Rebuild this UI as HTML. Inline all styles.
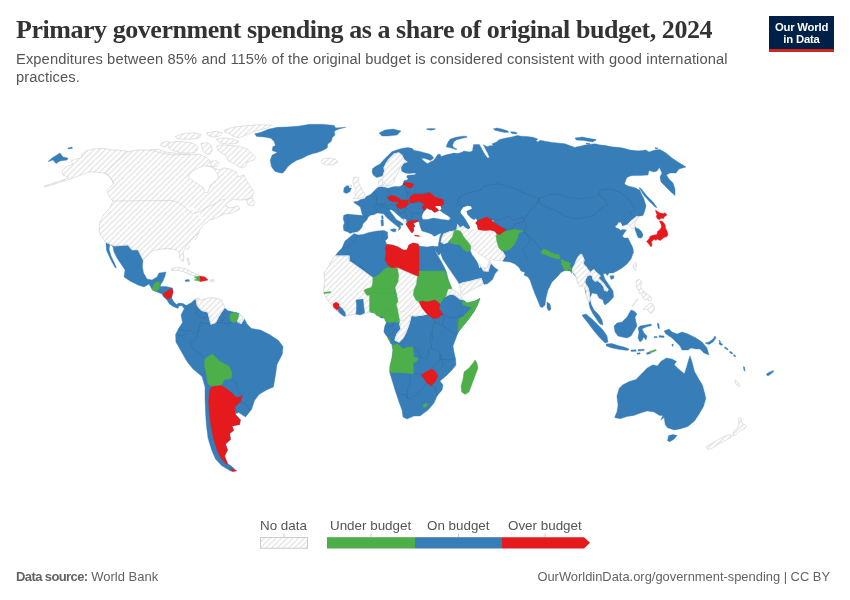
<!DOCTYPE html>
<html><head><meta charset="utf-8">
<style>
html,body{margin:0;padding:0;background:#fff;}
body{width:850px;height:600px;position:relative;overflow:hidden;font-family:"Liberation Sans",sans-serif;}
#title{position:absolute;left:16px;top:14px;font-family:"Liberation Serif",serif;font-weight:bold;font-size:26px;color:#333;white-space:nowrap;letter-spacing:-0.454px;line-height:32px;}
#sub{position:absolute;left:16px;top:50px;font-size:14.7px;letter-spacing:0.1px;color:#555;line-height:18px;white-space:nowrap;}
#logo{position:absolute;left:769px;top:16px;width:65px;height:33px;background:#002147;border-bottom:3px solid #ce261e;color:#fff;font-weight:bold;font-size:11.3px;line-height:12px;text-align:center;box-sizing:content-box;letter-spacing:-0.2px;}
#logo div{position:absolute;left:0;width:65px;}
#src{position:absolute;left:16px;top:569px;font-size:13px;color:#636363;white-space:nowrap;}
#url{position:absolute;right:20px;top:569px;font-size:12.9px;color:#636363;white-space:nowrap;}
.lg{position:absolute;top:518px;font-size:13.4px;color:#555;white-space:nowrap;}
svg{position:absolute;left:0;top:0;}
</style></head><body>
<div id="title">Primary government spending as a share of original budget, 2024</div>
<div id="sub">Expenditures between 85% and 115% of the original budget is considered consistent with good international<br>practices.</div>
<div id="logo"><div style="top:4.500px">Our World</div><div style="top:16.500px">in Data</div></div>
<svg id="map" width="850" height="600" viewBox="0 0 850 600">
<defs>
<pattern id="h" patternUnits="userSpaceOnUse" width="17" height="17"><rect width="17" height="17" fill="#fff"/><path d="M-1.000,1.000L1.000,-1.000M-1.000,6.667L6.667,-1.000M-1.000,12.333L12.333,-1.000M-1.000,18.000L18.000,-1.000M-1.000,23.667L23.667,-1.000M-1.000,29.333L29.333,-1.000M-1.000,35.000L35.000,-1.000" stroke="#e7e7e7" stroke-width="1.4" fill="none"/></pattern>
<pattern id="h2" patternUnits="userSpaceOnUse" width="17" height="17" x="260" y="537"><rect width="17" height="17" fill="#fff"/><path d="M-1.000,1.000L1.000,-1.000M-1.000,6.667L6.667,-1.000M-1.000,12.333L12.333,-1.000M-1.000,18.000L18.000,-1.000M-1.000,23.667L23.667,-1.000M-1.000,29.333L29.333,-1.000M-1.000,35.000L35.000,-1.000" stroke="#e7e7e7" stroke-width="1.4" fill="none"/></pattern>
</defs>
<!--MAP-->
<g fill="#377eb8" stroke="#377eb8" stroke-width="0.4">
<path d="M335.0,256.0L339.0,251.0L342.0,248.0L345.0,241.0L350.0,237.0L354.0,233.6L358.0,235.0L363.0,234.4L369.0,232.4L377.0,231.0L384.0,230.4L387.4,232.0L388.0,238.0L385.0,241.0L387.0,244.4L392.0,245.0L398.0,247.0L403.0,250.0L407.0,250.0L409.0,245.0L413.0,243.0L418.0,244.0L419.0,246.0L427.0,247.0L433.0,246.0L437.0,247.6L435.0,250.6L437.4,255.0L441.2,261.2L443.8,266.2L446.2,271.2L447.4,276.2L448.8,281.2L451.8,288.8L456.8,292.4L460.6,295.6L463.0,299.6L467.0,303.0L475.0,301.0L480.0,298.4L477.0,306.0L473.0,313.0L468.0,320.0L463.0,326.0L459.0,331.0L455.0,338.0L453.0,344.0L391.0,344.0L388.0,338.0L384.0,332.0L385.0,326.0L388.0,322.0L387.0,318.0L381.0,318.0L375.0,313.0L369.0,312.0L364.0,314.0L355.0,314.0L345.0,316.0L338.0,312.0L333.0,306.0L330.0,303.0L327.0,299.0L324.0,293.0L324.0,288.0L325.0,280.0L324.0,273.0L329.0,266.0L332.0,260.0Z"/>
<path d="M439.8,236.9L438.8,242.5L438.1,246.5L435.2,246.5L435.2,250.6L438.8,255.4L440.6,253.1L442.5,258.8L446.2,264.4L450.0,270.0L453.8,275.6L456.9,280.0L459.4,284.4L460.6,288.8L461.2,293.8L463.1,295.0L471.2,290.0L478.8,286.2L483.1,284.4L487.5,283.8L492.5,279.4L495.0,273.8L498.1,270.0L493.8,266.9L490.6,263.1L489.8,260.0L488.8,261.9L488.1,267.5L486.9,268.1L481.9,267.5L480.0,266.9L478.1,263.8L475.6,259.4L471.9,254.4L470.0,250.0L467.5,242.5L455.0,230.0L442.5,230.0Z"/>
<path d="M432.5,235.2L436.9,233.8L437.2,234.8L434.4,236.2Z"/>
<path d="M614.6,417.6L616.9,412.0L618.0,405.2L616.9,396.2L619.1,388.4L622.5,385.0L629.2,381.6L636.0,379.4L641.6,373.8L647.2,368.1L652.9,364.8L657.4,365.9L660.8,361.4L666.4,358.0L672.0,359.1L676.5,361.4L674.2,364.8L678.8,369.2L684.4,373.8L686.6,367.0L688.9,359.1L690.0,355.8L692.2,362.5L694.5,371.5L699.0,379.4L702.4,385.0L704.6,392.9L705.8,398.5L703.5,406.4L699.0,414.2L694.5,421.0L687.8,426.6L679.9,428.9L674.2,430.0L667.5,427.8L665.2,424.4L664.1,417.6L660.8,419.9L663.0,415.4L659.6,415.4L654.0,412.0L647.2,410.9L640.5,413.1L633.8,415.4L627.0,416.5L620.2,418.8Z"/>
<path d="M668.6,435.6L673.1,434.5L677.0,435.6L674.2,439.0L669.8,441.7L667.5,440.8Z"/>
<path d="M719.2,342.7L722.6,344.1L722.2,345.4L719.0,343.8Z"/>
<path d="M724.9,346.8L728.2,349.0L727.6,350.1L724.4,347.9Z"/>
<path d="M730.0,351.2L732.8,353.1L732.1,354.2L729.6,352.4Z"/>
<path d="M733.9,354.6L735.7,355.8L735.2,356.9L733.4,355.8Z"/>
<path d="M743.3,366.6L744.5,367.0L745.1,371.1L744.0,370.6Z"/>
<path d="M766.5,373.8L769.9,371.9L773.7,370.4L773.2,371.9L768.8,375.6L767.0,375.6Z"/>
<path d="M106.0,242.4L114.0,246.0L128.0,245.0L132.0,250.0L138.0,250.0L143.0,260.0L142.4,267.0L143.6,273.0L147.0,279.0L152.0,280.0L157.0,277.0L159.0,273.0L166.0,272.0L165.0,276.0L163.0,281.0L161.0,284.0L160.0,286.6L166.0,286.4L172.4,288.0L173.0,292.0L171.6,298.0L173.6,301.6L176.4,304.4L179.0,303.0L183.0,303.6L186.4,305.6L186.0,307.0L184.0,308.4L182.0,305.6L179.0,306.0L178.0,308.4L173.0,306.4L169.0,303.6L167.0,300.0L163.6,297.0L162.0,294.0L157.0,292.0L152.4,290.0L149.0,284.0L144.0,287.0L138.0,285.0L130.0,281.0L124.0,277.0L125.0,270.0L121.0,264.0L117.0,258.0L114.0,252.0L113.0,247.0L110.0,244.0Z"/>
<path d="M106.0,243.0L110.0,244.0L109.0,249.0L111.0,256.0L114.0,262.0L116.4,268.0L115.0,267.6L112.0,262.0L109.0,256.0L106.4,250.0Z"/>
<path d="M185.0,280.0L189.0,279.6L189.6,281.2L185.6,281.6Z"/>
<path d="M426.4,207.6L429.4,209.3L431.7,210.0L434.6,212.3L438.9,210.5L437.6,208.6L435.2,207.0L435.9,206.1L440.6,206.1L441.5,208.6L439.9,210.5L444.1,213.5L448.3,216.1L450.6,218.2L448.8,220.3L441.8,219.4L433.6,218.1L427.6,219.4L422.9,219.4L421.7,217.0L419.2,220.1L419.2,222.2L420.1,226.6L421.9,231.0L428.0,232.8L435.0,235.4L442.0,232.8L446.4,231.9L452.5,231.0L470.0,224.0L470.0,192.5L435.0,192.5Z"/>
<path d="M344.0,188.1L346.6,185.8L349.6,185.8L351.4,188.1L350.1,191.6L346.6,193.4L343.6,192.2Z"/>
<path d="M381.5,185.9L378.5,187.1L375.6,189.4L372.6,192.4L370.3,194.7L366.2,196.5L364.4,198.8L360.3,199.4L357.9,201.2L353.8,201.8L354.4,202.9L357.9,205.3L360.3,207.1L361.5,211.8L362.6,215.9L360.3,215.3L353.8,214.7L347.4,214.1L343.8,215.3L343.2,218.8L344.4,222.4L343.2,226.5L343.8,230.6L347.4,231.8L350.3,233.5L352.6,232.4L357.4,231.8L360.3,229.4L362.1,227.1L363.2,223.5L366.8,220.0L367.9,217.6L370.3,215.3L373.8,214.7L377.4,212.9L381.5,213.5L383.8,214.1L386.8,217.6L390.9,221.2L394.4,224.1L397.4,226.5L399.1,227.6L398.5,230.6L400.3,228.8L400.9,226.5L399.7,225.3L402.6,225.3L403.2,224.1L400.3,221.8L396.2,219.4L393.8,215.9L391.5,212.9L389.7,210.6L390.9,209.4L393.8,211.2L397.4,214.7L400.9,217.6L403.8,220.0L405.0,222.9L406.2,224.1L406.8,225.3L407.9,227.1L409.7,230.0L412.1,232.9L413.8,230.6L413.2,227.1L415.0,226.5L413.2,223.5L415.0,222.4L418.5,221.2L419.1,222.4L422.1,221.8L421.5,218.8L422.1,215.3L423.2,212.4L425.6,209.4L427.9,207.1L436.2,197.6L436.2,174.4L415.9,174.4L411.8,175.1L407.6,175.3L406.5,177.1L408.2,178.8L407.1,180.0L404.1,180.6L403.5,182.9L402.9,184.7L399.9,186.5L395.2,186.5L391.8,187.1L388.2,188.2L384.4,187.3L382.4,186.5Z"/>
<path d="M381.5,215.9L383.0,215.6L383.2,219.1L381.8,219.4Z"/>
<path d="M380.9,220.2L383.2,219.8L383.5,225.6L381.4,226.1Z"/>
<path d="M390.3,229.4L393.8,228.8L396.2,229.2L395.6,231.8L393.2,231.8L390.9,230.6Z"/>
<path d="M580.0,147.0L588.0,146.4L598.0,145.0L606.0,145.6L614.0,148.0L624.0,148.4L630.0,151.0L638.0,151.0L646.0,150.0L649.0,152.0L655.0,150.0L660.0,149.6L666.0,153.0L672.0,158.0L678.0,162.0L686.0,167.0L679.0,169.0L676.0,173.0L670.0,173.0L666.4,175.0L669.0,179.0L673.0,183.0L675.0,189.0L675.0,195.6L671.0,192.0L665.0,186.0L661.0,182.0L660.0,177.0L662.0,173.0L659.4,167.6L657.0,171.0L654.0,172.0L649.0,170.6L648.0,175.0L640.0,175.6L632.0,175.6L627.0,177.0L624.4,184.0L628.0,186.0L636.0,188.0L640.0,191.0L644.0,199.0L646.0,206.0L644.4,212.0L643.0,215.4L637.4,216.4L638.0,217.4L636.4,220.0L635.0,223.0L634.4,226.0L636.4,228.0L639.0,229.0L641.4,231.4L643.0,234.4L642.4,237.0L640.4,238.2L638.0,237.4L636.8,234.4L635.8,231.4L634.4,229.0L633.4,228.4L632.0,229.0L630.4,227.0L629.4,225.0L628.4,224.0L625.0,225.0L622.4,226.0L621.8,224.0L620.4,222.0L618.4,222.4L617.4,224.4L615.0,226.4L616.4,228.0L619.4,229.0L620.4,230.4L622.4,229.4L626.4,230.0L625.0,232.0L622.4,236.0L624.0,238.0L626.4,240.0L629.0,243.0L631.4,246.0L633.4,250.0L576.0,250.0L576.0,147.0Z"/>
<path d="M639.0,187.6L641.0,188.4L647.0,196.0L653.0,202.0L657.0,207.6L655.0,207.0L649.0,201.0L643.6,195.0Z"/>
<path d="M580.0,138.0L588.0,138.4L596.0,139.6L592.0,140.4L584.0,139.4Z"/>
<path d="M586.0,143.0L590.0,143.6L589.6,144.6L586.4,144.0Z"/>
<path d="M655.0,147.6L658.0,148.0L657.6,148.8L655.2,148.4Z"/>
<path d="M254.7,133.8L260.5,132.5L268.3,129.2L277.4,127.3L287.7,126.9L299.4,126.0L309.7,124.3L322.6,124.3L334.3,125.4L335.6,127.9L345.9,127.3L338.2,129.2L334.3,131.2L334.9,135.1L332.4,137.6L331.1,141.5L327.8,144.1L327.2,148.0L322.6,150.6L317.5,152.5L312.3,153.8L307.1,155.8L301.9,158.4L296.8,160.3L291.6,163.5L287.7,166.8L285.1,170.6L282.5,173.2L278.6,172.6L274.8,171.3L271.5,166.8L270.2,160.3L272.2,155.1L277.4,152.5L272.2,150.6L272.8,146.7L275.4,145.4L274.1,141.5L270.9,138.3L264.4,137.0L256.6,136.4Z"/>
<path d="M501.8,261.0L510.0,262.0L515.0,264.0L519.0,267.4L521.0,271.0L525.0,272.4L524.0,275.0L528.0,277.0L530.0,280.0L532.0,286.0L535.0,294.0L538.0,301.0L540.4,307.0L542.4,307.4L545.0,305.0L546.0,298.0L548.0,290.0L552.0,282.0L558.0,276.0L561.0,272.4L566.0,270.0L569.0,271.0L572.0,270.0L573.0,273.0L590.0,268.0L590.0,200.0L490.0,200.0L496.0,234.0L499.0,248.0L502.0,251.0L505.0,256.0Z"/>
<path d="M460.0,210.0L482.0,210.0L482.0,232.0L460.0,232.0Z"/>
<path d="M547.0,302.0L550.0,304.0L551.0,309.0L549.0,311.0L547.0,308.0Z"/>
<path d="M48.0,161.6L52.0,158.0L60.0,153.0L63.0,157.0L68.0,158.0L67.0,160.0L60.0,161.0L56.0,163.6L53.0,160.0Z"/>
<path d="M68.0,148.0L72.0,147.0L72.4,148.4L68.4,149.0Z"/>
<path d="M535.0,145.0L540.0,140.2L545.0,141.2L552.5,142.5L565.0,143.8L575.0,147.5L585.0,145.0L595.0,143.8L605.0,146.2L620.0,147.5L630.0,150.0L640.0,151.2L640.0,173.8L630.0,175.5L625.0,178.8L623.8,183.8L627.5,187.5L640.0,190.0L640.0,210.0L615.0,220.0L455.0,220.0L455.0,205.0L440.0,202.5L430.0,185.0L430.0,180.0L540.0,180.0Z"/>
<path d="M575.0,138.0L582.5,137.0L590.0,138.8L596.2,140.0L592.5,142.0L583.8,140.5L576.2,140.0Z"/>
<path d="M444.7,155.9L448.2,155.2L453.9,153.1L457.4,153.8L462.4,152.0L463.8,151.0L469.4,152.0L472.5,151.0L472.9,148.2L473.6,144.6L479.3,144.4L481.0,147.5L482.8,151.0L484.9,154.5L487.5,158.1L489.5,157.4L488.0,153.8L486.1,150.3L484.4,146.8L483.2,144.6L487.1,146.8L490.6,145.4L493.4,146.1L492.0,143.9L496.9,141.8L499.1,139.7L504.7,138.3L511.8,136.9L517.4,135.5L521.6,136.2L527.3,136.5L532.9,137.3L537.9,139.0L535.8,141.1L540.0,142.5L541.4,188.4L444.7,188.4Z"/>
<path d="M446.1,146.8L448.2,141.8L450.4,139.0L456.0,137.3L462.4,136.2L466.6,136.2L467.0,137.2L462.4,138.3L456.7,139.7L453.9,141.8L452.5,145.4L453.9,147.8L457.0,148.9L456.0,149.6L450.4,147.8Z"/>
<path d="M426.4,128.8L431.3,128.6L435.5,128.7L434.8,129.5L430.6,130.2L427.1,129.5Z"/>
<path d="M493.4,128.8L496.9,128.0L501.9,129.1L507.5,130.8L508.9,132.2L504.7,132.6L499.1,131.2L494.8,130.2Z"/>
<path d="M510.4,131.7L514.6,131.9L517.4,133.1L516.0,134.1L511.8,133.4Z"/>
<path d="M388.0,318.0L385.0,326.0L384.0,332.0L388.0,337.0L391.0,340.0L392.0,345.0L393.0,350.0L392.0,358.0L390.0,366.0L389.6,372.0L392.0,380.0L395.0,390.0L399.0,402.0L402.0,410.0L403.0,417.0L407.0,419.0L414.0,416.0L420.0,416.0L428.0,410.0L434.0,403.0L437.0,396.0L442.0,390.0L443.0,385.0L440.0,381.0L446.0,376.0L452.0,370.0L456.0,365.0L455.6,359.0L454.0,352.0L453.0,346.0L456.0,338.0L458.0,332.0L460.0,329.0L466.0,320.0L472.0,314.0L475.0,310.0L475.0,304.0L388.0,304.0Z"/>
<path d="M185.5,306.0L181.0,315.0L182.5,322.5L178.6,328.5L175.6,334.5L175.9,342.0L181.0,351.0L187.0,361.5L193.0,369.0L202.0,376.5L205.0,387.0L205.0,399.0L205.6,414.0L206.5,426.0L208.0,438.0L211.6,450.0L215.5,459.0L221.5,465.6L230.5,471.0L236.5,471.0L232.0,466.5L227.5,463.5L224.5,456.0L227.5,450.0L225.4,444.0L230.5,439.5L229.6,433.5L233.5,430.5L232.0,426.0L239.5,424.5L240.4,420.0L235.0,414.0L238.6,412.5L245.5,417.0L251.5,409.5L254.5,400.5L259.0,394.5L266.5,390.0L273.4,387.0L275.5,375.0L277.0,364.5L282.4,354.0L283.0,346.5L278.5,340.5L269.5,334.5L260.5,330.0L251.5,328.5L247.0,324.0L244.0,318.0L239.5,313.5L233.5,312.0L227.5,310.5L224.5,307.5L221.5,300.0L217.0,298.5L209.5,297.6L202.0,300.0L196.0,298.5L191.5,302.4Z"/>
<path d="M372.4,168.8L375.3,166.5L380.0,164.1L383.5,160.0L387.6,155.9L391.8,151.8L396.5,150.0L402.4,148.2L408.2,147.6L412.4,148.5L414.1,150.6L418.8,151.2L423.5,152.4L429.4,154.1L432.4,155.9L433.5,158.2L430.6,160.6L427.6,159.4L424.1,158.2L421.2,158.5L424.1,161.2L427.1,163.5L428.8,162.9L430.6,161.8L433.5,160.6L435.9,157.6L437.4,154.7L440.0,154.1L441.2,156.5L444.7,155.3L449.4,154.1L454.1,153.5L461.2,154.1L461.2,201.2L415.9,201.2L415.9,174.4L415.9,173.5L414.1,172.9L409.4,173.5L405.3,172.9L401.8,171.2L401.2,167.6L403.5,163.5L406.5,161.8L403.5,162.9L400.6,166.5L398.8,170.6L397.6,174.1L395.3,177.1L394.1,181.2L391.2,184.7L388.2,185.9L385.3,185.3L383.5,182.4L382.4,178.8L383.3,175.5L380.6,176.5L376.5,177.6L373.5,175.3L372.1,172.4Z"/>
<path d="M628.0,238.0L632.0,246.0L633.6,252.0L631.0,259.0L627.0,264.0L622.0,268.0L617.0,271.0L613.0,273.0L609.0,273.0L607.6,275.6L605.6,273.6L603.0,274.0L605.0,279.0L609.0,285.0L613.0,291.0L613.6,297.0L609.0,302.0L605.0,305.0L603.6,303.0L603.0,300.0L599.0,298.0L597.0,294.0L592.0,293.0L590.0,298.0L591.0,304.0L594.0,310.0L599.0,315.0L602.0,320.0L603.0,325.0L600.0,324.0L597.0,320.0L593.0,314.0L590.0,308.0L588.6,302.0L586.0,295.0L584.0,284.0L580.0,285.6L577.6,283.0L576.8,278.4L573.2,273.6L569.0,270.0L558.0,270.0L558.0,238.0Z"/>
<path d="M610.0,276.0L613.6,275.6L614.0,278.0L611.0,279.4Z"/>
<path d="M582.0,315.0L586.0,314.0L592.0,319.0L598.0,325.0L603.0,330.0L607.0,336.0L608.0,342.0L605.0,343.0L600.0,338.0L594.0,331.0L588.0,323.0L584.0,318.0Z"/>
<path d="M606.0,344.0L612.0,343.6L618.0,345.6L624.0,347.0L629.0,349.0L628.0,350.4L620.0,349.6L612.0,348.0L606.4,346.0Z"/>
<path d="M631.0,350.0L636.0,349.8L636.2,351.2L631.2,351.4Z"/>
<path d="M638.0,349.6L644.0,349.2L644.2,350.6L638.2,351.0Z"/>
<path d="M637.0,353.0L640.0,352.8L640.2,354.0L637.2,354.2Z"/>
<path d="M646.4,353.0L650.0,351.6L651.0,353.2L647.2,354.6Z"/>
<path d="M614.0,326.0L617.0,323.0L622.0,322.0L627.0,317.0L631.0,310.0L634.0,311.0L637.0,314.0L635.0,317.0L636.0,322.0L637.0,326.0L634.0,331.0L631.0,336.0L627.0,338.0L622.0,337.0L618.0,336.0L615.0,332.0Z"/>
<path d="M638.0,328.0L640.0,326.0L646.0,325.0L651.0,324.0L651.6,325.6L646.0,327.0L642.0,329.0L644.0,333.0L647.0,336.0L646.0,340.0L643.6,337.0L642.4,340.0L640.0,342.0L638.0,338.0L639.0,332.0Z"/>
<path d="M657.4,323.0L659.0,324.0L659.4,329.0L658.0,328.0Z"/>
<path d="M654.0,336.6L657.0,336.4L657.2,337.6L654.2,337.8Z"/>
<path d="M659.0,335.6L664.0,336.0L664.2,337.4L659.2,337.2Z"/>
<path d="M672.0,344.0L673.2,344.2L673.0,346.2L672.0,346.0Z"/>
<path d="M664.0,331.0L669.0,329.0L672.0,332.0L677.0,334.0L682.0,332.0L688.0,334.0L696.0,338.0L702.0,342.0L707.0,348.0L709.0,355.0L704.0,353.0L700.0,349.0L696.0,349.0L691.0,348.0L688.0,350.0L682.0,350.0L680.0,346.0L676.0,342.0L672.0,338.0L669.0,336.0L666.0,334.0Z"/>
<path d="M705.0,343.0L709.0,342.0L713.0,339.0L715.0,336.0L716.0,338.0L713.0,342.0L709.0,344.4Z"/>
<path d="M719.0,340.0L720.2,341.0L721.2,345.0L720.0,344.6Z"/>
<path d="M379.0,133.0L385.0,130.0L393.0,129.0L401.0,131.0L397.0,135.0L388.0,136.0L382.0,136.0Z"/>
</g>
<g fill="url(#h)">
<path d="M71.0,161.0L76.0,159.0L81.0,158.0L82.0,154.0L86.0,151.0L94.0,149.0L104.0,148.4L112.0,150.0L120.0,150.0L128.0,151.6L138.0,150.0L150.0,150.0L158.0,152.0L166.0,154.0L174.0,155.0L190.0,154.0L190.0,250.0L132.0,250.0L128.0,245.0L114.0,246.0L106.0,242.4L101.0,236.0L99.0,230.0L100.0,222.0L104.0,214.0L110.0,208.0L112.0,203.0L113.0,201.0L111.0,199.0L108.0,194.0L107.0,190.0L110.0,187.0L113.6,184.0L112.0,180.0L108.0,175.0L104.0,173.0L96.0,172.0L88.0,172.0L81.0,175.0L70.0,179.0L58.0,183.0L44.0,187.0L44.4,186.0L58.0,181.6L69.0,177.6L63.0,175.0L62.0,171.0L66.0,167.0L73.0,164.0Z"/>
<path d="M150.0,150.0L158.0,149.0L166.0,152.0L174.0,153.0L182.0,154.0L190.0,155.0L198.0,154.0L206.0,157.0L210.0,161.0L206.0,165.6L212.0,167.0L219.0,170.0L224.0,168.0L230.0,169.0L236.0,172.0L238.0,177.0L244.0,175.0L246.0,180.0L250.0,186.0L254.0,192.0L252.0,197.0L246.0,199.6L240.0,200.0L234.0,199.0L228.0,202.0L226.0,206.0L230.0,208.0L238.0,206.0L240.0,209.0L232.0,213.0L224.0,214.0L216.0,218.0L210.0,220.0L204.0,224.0L200.0,229.0L198.0,235.0L195.0,240.0L150.0,240.0Z"/>
<path d="M150.0,200.0L200.0,200.0L198.0,233.0L191.0,240.0L186.0,246.0L183.0,252.0L184.0,258.0L183.0,262.0L180.0,259.0L179.0,252.0L176.0,250.0L170.0,248.4L160.0,249.0L152.0,251.0L147.0,256.0L143.0,260.0L138.0,250.0L132.0,250.0L128.0,245.0L114.0,246.0L106.0,242.4L100.0,225.0L120.0,200.0Z"/>
</g>
<g fill="url(#h)" stroke="#cfcfcf" stroke-width="0.6">
<path d="M335.0,256.0L349.0,256.0L349.0,261.0L373.0,278.0L372.6,284.2L371.4,287.6L366.8,288.8L363.8,290.6L366.8,295.2L369.6,295.2L369.6,304.2L369.6,311.6L364.0,314.0L355.0,314.0L345.0,316.0L338.0,312.0L333.0,306.0L330.0,303.0L327.0,299.0L324.0,293.0L324.0,288.0L325.0,280.0L324.0,273.0L329.0,266.0L332.0,260.0Z" fill="#fff" stroke="#fff" stroke-width="1.2"/>
<path d="M335.0,256.0L349.0,256.0L349.0,261.0L373.0,278.0L372.6,284.2L371.4,287.6L366.8,288.8L363.8,290.6L366.8,295.2L369.6,295.2L369.6,304.2L369.6,311.6L364.0,314.0L355.0,314.0L345.0,316.0L338.0,312.0L333.0,306.0L330.0,303.0L327.0,299.0L324.0,293.0L324.0,288.0L325.0,280.0L324.0,273.0L329.0,266.0L332.0,260.0Z"/>
<path d="M398.0,268.0L415.0,275.6L417.4,276.6L416.6,284.0L414.0,290.0L413.4,295.0L416.0,300.0L411.0,306.0L405.0,311.0L401.0,312.0L397.4,308.8L396.2,304.2L398.0,301.8L397.4,298.2L396.2,292.4L395.0,287.6L398.0,281.8L398.6,274.8L398.0,272.0Z" fill="#fff" stroke="#fff" stroke-width="1.2"/>
<path d="M398.0,268.0L415.0,275.6L417.4,276.6L416.6,284.0L414.0,290.0L413.4,295.0L416.0,300.0L411.0,306.0L405.0,311.0L401.0,312.0L397.4,308.8L396.2,304.2L398.0,301.8L397.4,298.2L396.2,292.4L395.0,287.6L398.0,281.8L398.6,274.8L398.0,272.0Z"/>
<path d="M401.0,312.0L405.0,311.0L411.0,306.0L416.0,300.0L419.0,302.0L422.0,308.0L427.0,314.0L423.0,315.0L415.0,316.0L409.0,315.0L404.0,320.0L399.6,320.6L398.4,314.6L397.4,308.8Z" fill="#fff" stroke="#fff" stroke-width="1.2"/>
<path d="M401.0,312.0L405.0,311.0L411.0,306.0L416.0,300.0L419.0,302.0L422.0,308.0L427.0,314.0L423.0,315.0L415.0,316.0L409.0,315.0L404.0,320.0L399.6,320.6L398.4,314.6L397.4,308.8Z"/>
<path d="M399.6,320.6L404.0,320.0L409.0,315.0L411.0,316.0L409.0,324.0L406.0,332.0L403.0,338.0L399.0,342.0L395.0,340.0L397.0,334.0L401.0,329.0L399.6,323.0Z" fill="#fff" stroke="#fff" stroke-width="1.2"/>
<path d="M399.6,320.6L404.0,320.0L409.0,315.0L411.0,316.0L409.0,324.0L406.0,332.0L403.0,338.0L399.0,342.0L395.0,340.0L397.0,334.0L401.0,329.0L399.6,323.0Z"/>
<path d="M448.0,289.0L451.8,288.8L456.8,292.4L460.6,295.6L463.0,299.6L460.0,299.0L455.0,295.0L451.0,294.0L448.0,295.0L446.0,296.0Z" fill="#fff" stroke="#fff" stroke-width="1.2"/>
<path d="M448.0,289.0L451.8,288.8L456.8,292.4L460.6,295.6L463.0,299.6L460.0,299.0L455.0,295.0L451.0,294.0L448.0,295.0L446.0,296.0Z"/>
<path d="M459.4,284.4L462.5,283.1L471.2,281.2L478.1,279.4L481.2,278.8L483.1,284.4L478.8,286.2L471.2,290.0L463.1,295.0L461.2,293.8L460.6,288.8Z" fill="#fff" stroke="#fff" stroke-width="1.2"/>
<path d="M459.4,284.4L462.5,283.1L471.2,281.2L478.1,279.4L481.2,278.8L483.1,284.4L478.8,286.2L471.2,290.0L463.1,295.0L461.2,293.8L460.6,288.8Z"/>
<path d="M481.9,267.5L486.9,268.1L488.8,261.9L489.8,260.0L490.6,263.1L489.4,266.2L488.1,271.2L483.8,270.6Z" fill="#fff" stroke="#fff" stroke-width="1.2"/>
<path d="M481.9,267.5L486.9,268.1L488.8,261.9L489.8,260.0L490.6,263.1L489.4,266.2L488.1,271.2L483.8,270.6Z"/>
<path d="M479.1,264.4L480.2,263.8L480.6,266.2L479.6,267.1Z" fill="#fff" stroke="#fff" stroke-width="1.2"/>
<path d="M479.1,264.4L480.2,263.8L480.6,266.2L479.6,267.1Z"/>
<path d="M224.2,130.0L233.4,127.2L244.7,125.8L258.8,124.8L271.5,125.1L267.3,127.9L258.8,130.0L253.2,132.1L244.7,135.6L239.1,137.8L233.4,136.4L229.2,133.5L224.9,132.1Z" fill="#fff" stroke="#fff" stroke-width="1.2"/>
<path d="M224.2,130.0L233.4,127.2L244.7,125.8L258.8,124.8L271.5,125.1L267.3,127.9L258.8,130.0L253.2,132.1L244.7,135.6L239.1,137.8L233.4,136.4L229.2,133.5L224.9,132.1Z"/>
<path d="M216.5,139.2L223.5,137.8L233.4,139.2L239.1,141.3L236.2,143.4L227.8,144.1L219.3,142.7Z" fill="#fff" stroke="#fff" stroke-width="1.2"/>
<path d="M216.5,139.2L223.5,137.8L233.4,139.2L239.1,141.3L236.2,143.4L227.8,144.1L219.3,142.7Z"/>
<path d="M216.5,146.2L222.1,144.8L230.6,145.5L239.1,146.2L247.5,149.1L251.8,153.3L256.0,157.5L253.2,160.4L247.5,161.8L246.1,166.0L241.9,168.1L237.6,166.0L233.4,163.2L227.8,160.4L226.4,156.1L222.1,153.3L217.9,150.5Z" fill="#fff" stroke="#fff" stroke-width="1.2"/>
<path d="M216.5,146.2L222.1,144.8L230.6,145.5L239.1,146.2L247.5,149.1L251.8,153.3L256.0,157.5L253.2,160.4L247.5,161.8L246.1,166.0L241.9,168.1L237.6,166.0L233.4,163.2L227.8,160.4L226.4,156.1L222.1,153.3L217.9,150.5Z"/>
<path d="M200.9,143.4L206.6,142.7L210.8,144.8L212.2,150.5L209.4,154.7L205.2,153.3L202.4,149.1Z" fill="#fff" stroke="#fff" stroke-width="1.2"/>
<path d="M200.9,143.4L206.6,142.7L210.8,144.8L212.2,150.5L209.4,154.7L205.2,153.3L202.4,149.1Z"/>
<path d="M168.5,143.4L176.9,141.3L185.4,142.0L193.9,143.4L198.1,147.6L195.3,152.6L188.2,153.3L179.8,152.6L172.7,150.5L168.5,147.6Z" fill="#fff" stroke="#fff" stroke-width="1.2"/>
<path d="M168.5,143.4L176.9,141.3L185.4,142.0L193.9,143.4L198.1,147.6L195.3,152.6L188.2,153.3L179.8,152.6L172.7,150.5L168.5,147.6Z"/>
<path d="M161.4,143.4L165.6,141.3L169.9,142.0L168.5,145.5L164.2,146.9L160.7,145.5Z" fill="#fff" stroke="#fff" stroke-width="1.2"/>
<path d="M161.4,143.4L165.6,141.3L169.9,142.0L168.5,145.5L164.2,146.9L160.7,145.5Z"/>
<path d="M175.5,136.4L184.0,133.5L192.5,132.8L200.9,134.2L199.5,137.8L191.1,139.2L182.6,139.2L176.9,138.5Z" fill="#fff" stroke="#fff" stroke-width="1.2"/>
<path d="M175.5,136.4L184.0,133.5L192.5,132.8L200.9,134.2L199.5,137.8L191.1,139.2L182.6,139.2L176.9,138.5Z"/>
<path d="M206.6,132.8L215.1,131.4L222.1,132.8L220.7,135.6L213.6,137.1L208.0,135.6Z" fill="#fff" stroke="#fff" stroke-width="1.2"/>
<path d="M206.6,132.8L215.1,131.4L222.1,132.8L220.7,135.6L213.6,137.1L208.0,135.6Z"/>
<path d="M209.4,161.8L216.5,160.4L219.3,163.2L216.5,166.7L211.5,166.0Z" fill="#fff" stroke="#fff" stroke-width="1.2"/>
<path d="M209.4,161.8L216.5,160.4L219.3,163.2L216.5,166.7L211.5,166.0Z"/>
<path d="M738.4,418.8L740.6,417.6L741.8,423.2L746.2,425.5L745.1,428.2L739.5,431.1L735.0,435.6L732.8,435.6L733.9,431.1L737.7,427.8L739.0,423.2Z" fill="#fff" stroke="#fff" stroke-width="1.2"/>
<path d="M738.4,418.8L740.6,417.6L741.8,423.2L746.2,425.5L745.1,428.2L739.5,431.1L735.0,435.6L732.8,435.6L733.9,431.1L737.7,427.8L739.0,423.2Z"/>
<path d="M705.8,446.9L711.4,443.5L719.2,439.0L726.0,435.6L730.5,434.5L731.6,436.8L726.0,440.1L719.2,443.5L712.5,448.0L708.0,449.8Z" fill="#fff" stroke="#fff" stroke-width="1.2"/>
<path d="M705.8,446.9L711.4,443.5L719.2,439.0L726.0,435.6L730.5,434.5L731.6,436.8L726.0,440.1L719.2,443.5L712.5,448.0L708.0,449.8Z"/>
<path d="M734.5,380.9L736.1,380.5L740.0,385.0L739.0,386.8L736.1,383.9Z" fill="#fff" stroke="#fff" stroke-width="1.2"/>
<path d="M734.5,380.9L736.1,380.5L740.0,385.0L739.0,386.8L736.1,383.9Z"/>
<path d="M573.0,268.0L575.0,264.5L576.5,260.5L578.0,257.5L580.0,255.0L581.5,254.5L583.0,257.5L584.0,260.0L583.0,264.0L586.0,267.0L588.0,270.0L590.0,272.0L591.5,273.0L590.0,274.5L587.0,276.0L585.5,279.0L584.5,282.0L586.0,285.0L588.0,288.0L589.0,292.0L590.0,300.0L588.6,302.0L586.0,295.0L586.5,291.0L584.0,286.0L582.0,286.0L579.5,286.5L578.0,283.0L577.0,279.0L575.5,275.0L573.5,272.0L572.0,273.5Z" fill="#fff" stroke="#fff" stroke-width="1.2"/>
<path d="M573.0,268.0L575.0,264.5L576.5,260.5L578.0,257.5L580.0,255.0L581.5,254.5L583.0,257.5L584.0,260.0L583.0,264.0L586.0,267.0L588.0,270.0L590.0,272.0L591.5,273.0L590.0,274.5L587.0,276.0L585.5,279.0L584.5,282.0L586.0,285.0L588.0,288.0L589.0,292.0L590.0,300.0L588.6,302.0L586.0,295.0L586.5,291.0L584.0,286.0L582.0,286.0L579.5,286.5L578.0,283.0L577.0,279.0L575.5,275.0L573.5,272.0L572.0,273.5Z"/>
<path d="M590.0,274.5L592.5,270.5L594.0,270.0L596.0,272.5L598.0,274.0L600.0,276.0L598.0,278.0L600.0,280.0L603.0,283.0L606.0,287.0L608.0,289.5L607.0,291.0L604.5,290.0L604.0,287.0L601.0,283.0L598.0,280.5L595.0,281.0L593.0,279.0L592.5,276.0Z" fill="#fff" stroke="#fff" stroke-width="1.2"/>
<path d="M590.0,274.5L592.5,270.5L594.0,270.0L596.0,272.5L598.0,274.0L600.0,276.0L598.0,278.0L600.0,280.0L603.0,283.0L606.0,287.0L608.0,289.5L607.0,291.0L604.5,290.0L604.0,287.0L601.0,283.0L598.0,280.5L595.0,281.0L593.0,279.0L592.5,276.0Z"/>
<path d="M171.0,269.0L178.0,267.0L186.0,269.0L194.0,273.0L199.0,275.0L198.0,276.4L191.0,275.0L184.0,272.0L177.0,270.0L172.0,270.6Z" fill="#fff" stroke="#fff" stroke-width="1.2"/>
<path d="M171.0,269.0L178.0,267.0L186.0,269.0L194.0,273.0L199.0,275.0L198.0,276.4L191.0,275.0L184.0,272.0L177.0,270.0L172.0,270.6Z"/>
<path d="M210.0,280.0L214.0,279.6L214.2,281.2L210.2,281.4Z" fill="#fff" stroke="#fff" stroke-width="1.2"/>
<path d="M210.0,280.0L214.0,279.6L214.2,281.2L210.2,281.4Z"/>
<path d="M187.0,258.0L188.4,258.4L189.6,264.4L188.4,265.0Z" fill="#fff" stroke="#fff" stroke-width="1.2"/>
<path d="M187.0,258.0L188.4,258.4L189.6,264.4L188.4,265.0Z"/>
<path d="M356.2,176.8L358.9,177.6L358.0,182.0L360.6,185.5L362.4,190.8L365.0,193.4L364.1,196.9L358.0,198.6L352.8,198.6L356.2,196.0L354.5,192.5L356.2,189.9L354.5,186.4L352.8,182.0L353.6,177.6Z" fill="#fff" stroke="#fff" stroke-width="1.2"/>
<path d="M356.2,176.8L358.9,177.6L358.0,182.0L360.6,185.5L362.4,190.8L365.0,193.4L364.1,196.9L358.0,198.6L352.8,198.6L356.2,196.0L354.5,192.5L356.2,189.9L354.5,186.4L352.8,182.0L353.6,177.6Z"/>
<path d="M349.2,185.2L351.7,185.2L351.7,187.2L349.6,187.2Z" fill="#fff" stroke="#fff" stroke-width="1.2"/>
<path d="M349.2,185.2L351.7,185.2L351.7,187.2L349.6,187.2Z"/>
<path d="M404.4,219.4L405.6,219.8L405.9,222.9L405.0,223.3L404.2,221.2Z" fill="#fff" stroke="#fff" stroke-width="1.2"/>
<path d="M404.4,219.4L405.6,219.8L405.9,222.9L405.0,223.3L404.2,221.2Z"/>
<path d="M628.5,224.0L631.5,221.0L634.5,218.5L637.0,216.5L638.0,217.5L636.5,220.0L635.0,223.0L634.5,226.0L634.5,229.0L633.5,228.5L632.0,229.0L630.5,227.0L629.5,225.0Z" fill="#fff" stroke="#fff" stroke-width="1.2"/>
<path d="M628.5,224.0L631.5,221.0L634.5,218.5L637.0,216.5L638.0,217.5L636.5,220.0L635.0,223.0L634.5,226.0L634.5,229.0L633.5,228.5L632.0,229.0L630.5,227.0L629.5,225.0Z"/>
<path d="M457.6,225.2L460.0,228.2L463.0,226.2L465.2,228.2L468.8,230.0L471.2,227.6L474.1,229.4L477.6,228.8L478.2,229.4L480.6,230.0L485.2,230.6L490.0,230.0L494.7,231.2L497.0,234.1L496.0,236.0L497.0,242.0L499.0,248.0L502.0,251.0L505.0,256.0L501.8,261.0L494.0,260.0L490.0,258.0L488.0,260.0L483.0,256.0L478.0,253.0L473.0,249.0L470.6,245.8L468.8,242.9L465.8,239.4L463.5,236.4L460.6,231.2L457.0,230.0Z" fill="#fff" stroke="#fff" stroke-width="1.2"/>
<path d="M457.6,225.2L460.0,228.2L463.0,226.2L465.2,228.2L468.8,230.0L471.2,227.6L474.1,229.4L477.6,228.8L478.2,229.4L480.6,230.0L485.2,230.6L490.0,230.0L494.7,231.2L497.0,234.1L496.0,236.0L497.0,242.0L499.0,248.0L502.0,251.0L505.0,256.0L501.8,261.0L494.0,260.0L490.0,258.0L488.0,260.0L483.0,256.0L478.0,253.0L473.0,249.0L470.6,245.8L468.8,242.9L465.8,239.4L463.5,236.4L460.6,231.2L457.0,230.0Z"/>
<path d="M441.2,241.8L442.4,237.0L444.1,234.1L450.0,231.8L454.1,231.2L452.4,237.0L448.2,241.8L444.1,243.5Z" fill="#fff" stroke="#fff" stroke-width="1.2"/>
<path d="M441.2,241.8L442.4,237.0L444.1,234.1L450.0,231.8L454.1,231.2L452.4,237.0L448.2,241.8L444.1,243.5Z"/>
<path d="M246.0,199.6L252.0,198.0L255.0,202.0L253.0,206.0L248.0,205.0Z" fill="#fff" stroke="#fff" stroke-width="1.2"/>
<path d="M246.0,199.6L252.0,198.0L255.0,202.0L253.0,206.0L248.0,205.0Z"/>
<path d="M633.5,264.0L635.0,262.0L636.5,263.0L636.5,267.0L635.5,270.5L634.0,269.0L633.0,266.5Z" fill="#fff" stroke="#fff" stroke-width="1.2"/>
<path d="M633.5,264.0L635.0,262.0L636.5,263.0L636.5,267.0L635.5,270.5L634.0,269.0L633.0,266.5Z"/>
<path d="M636.5,280.5L638.5,279.2L641.0,280.5L641.5,283.5L640.5,286.0L641.5,289.0L643.5,291.0L646.0,292.5L646.5,294.0L644.5,293.5L641.5,292.5L639.5,293.5L638.5,292.0L639.0,290.0L637.0,288.5L636.0,285.0Z" fill="#fff" stroke="#fff" stroke-width="1.2"/>
<path d="M636.5,280.5L638.5,279.2L641.0,280.5L641.5,283.5L640.5,286.0L641.5,289.0L643.5,291.0L646.0,292.5L646.5,294.0L644.5,293.5L641.5,292.5L639.5,293.5L638.5,292.0L639.0,290.0L637.0,288.5L636.0,285.0Z"/>
<path d="M642.5,293.0L646.0,293.5L649.5,295.5L651.5,298.0L651.0,300.5L649.0,301.0L648.0,299.0L646.0,300.0L644.0,299.0L642.5,297.0L641.5,295.0Z" fill="#fff" stroke="#fff" stroke-width="1.2"/>
<path d="M642.5,293.0L646.0,293.5L649.5,295.5L651.5,298.0L651.0,300.5L649.0,301.0L648.0,299.0L646.0,300.0L644.0,299.0L642.5,297.0L641.5,295.0Z"/>
<path d="M648.5,304.0L651.0,303.0L653.5,305.0L654.5,308.5L653.5,311.5L651.5,313.5L649.0,312.0L648.0,309.5L646.0,309.0L644.0,310.0L643.2,309.0L645.5,307.0L647.5,306.0Z" fill="#fff" stroke="#fff" stroke-width="1.2"/>
<path d="M648.5,304.0L651.0,303.0L653.5,305.0L654.5,308.5L653.5,311.5L651.5,313.5L649.0,312.0L648.0,309.5L646.0,309.0L644.0,310.0L643.2,309.0L645.5,307.0L647.5,306.0Z"/>
<path d="M632.0,306.0L635.0,301.5L637.5,298.5L638.0,299.5L635.5,303.0L632.8,306.5Z" fill="#fff" stroke="#fff" stroke-width="1.2"/>
<path d="M632.0,306.0L635.0,301.5L637.5,298.5L638.0,299.5L635.5,303.0L632.8,306.5Z"/>
<path d="M196.0,298.5L202.0,300.0L209.5,297.6L217.0,298.5L221.5,300.0L224.5,307.5L221.5,312.0L218.5,316.5L215.5,322.5L211.0,324.0L209.5,318.0L208.0,312.0L202.0,310.5L197.5,306.0Z" fill="#fff" stroke="#fff" stroke-width="1.2"/>
<path d="M196.0,298.5L202.0,300.0L209.5,297.6L217.0,298.5L221.5,300.0L224.5,307.5L221.5,312.0L218.5,316.5L215.5,322.5L211.0,324.0L209.5,318.0L208.0,312.0L202.0,310.5L197.5,306.0Z"/>
<path d="M239.5,314.1L244.0,318.6L241.0,323.4L237.4,321.6L238.9,316.5Z" fill="#fff" stroke="#fff" stroke-width="1.2"/>
<path d="M239.5,314.1L244.0,318.6L241.0,323.4L237.4,321.6L238.9,316.5Z"/>
<path d="M398.8,152.9L401.8,155.3L404.1,160.0L406.5,161.8L403.5,162.9L400.6,166.5L398.8,170.6L397.6,174.1L395.3,177.1L394.1,181.2L391.2,184.7L388.2,185.9L385.3,185.3L383.5,182.4L382.4,178.8L383.3,175.5L384.7,171.2L384.1,167.6L386.5,162.9L389.4,158.8L394.1,154.1Z" fill="#fff" stroke="#fff" stroke-width="1.2"/>
<path d="M398.8,152.9L401.8,155.3L404.1,160.0L406.5,161.8L403.5,162.9L400.6,166.5L398.8,170.6L397.6,174.1L395.3,177.1L394.1,181.2L391.2,184.7L388.2,185.9L385.3,185.3L383.5,182.4L382.4,178.8L383.3,175.5L384.7,171.2L384.1,167.6L386.5,162.9L389.4,158.8L394.1,154.1Z"/>
<path d="M378.8,180.6L381.8,178.8L382.9,181.2L382.4,185.9L379.4,186.1L378.2,183.5Z" fill="#fff" stroke="#fff" stroke-width="1.2"/>
<path d="M378.8,180.6L381.8,178.8L382.9,181.2L382.4,185.9L379.4,186.1L378.2,183.5Z"/>
<path d="M383.5,184.1L385.9,183.5L386.5,185.9L384.1,186.5Z" fill="#fff" stroke="#fff" stroke-width="1.2"/>
<path d="M383.5,184.1L385.9,183.5L386.5,185.9L384.1,186.5Z"/>
<path d="M321.0,161.0L324.0,158.5L330.0,158.0L336.0,159.5L338.0,162.0L334.0,164.5L327.0,165.0L322.0,163.5Z" fill="#fff" stroke="#fff" stroke-width="1.2"/>
<path d="M321.0,161.0L324.0,158.5L330.0,158.0L336.0,159.5L338.0,162.0L334.0,164.5L327.0,165.0L322.0,163.5Z"/>
</g>
<g fill="#4daf4a" stroke="#4daf4a" stroke-width="0.4">
<path d="M363.8,290.6L366.8,295.2L369.6,295.2L372.6,291.8L377.4,293.0L383.2,294.2L389.2,293.0L393.2,292.4L396.2,292.4L395.0,287.6L398.0,281.8L398.6,274.8L398.0,272.0L397.0,267.0L386.0,268.0L378.6,274.8L373.0,278.0L372.6,284.2L371.4,287.6L366.8,288.8Z"/>
<path d="M369.6,295.2L372.6,291.8L377.4,293.0L383.2,294.2L389.2,293.0L393.2,292.4L395.6,295.2L395.0,299.4L393.2,305.2L390.2,310.0L385.6,312.4L382.6,316.4L379.2,316.4L376.2,315.2L374.4,313.0L369.6,311.2L369.6,304.2Z"/>
<path d="M396.2,292.4L397.4,298.2L398.0,301.8L396.2,304.2L397.4,308.8L398.4,314.6L399.6,320.6L399.6,323.0L395.0,321.8L390.2,322.4L385.6,321.8L384.4,318.8L382.6,316.4L385.6,312.4L390.2,310.0L393.2,305.2L395.0,299.4L395.6,295.2Z"/>
</g>
<g fill="#e41a1c" stroke="#e41a1c" stroke-width="0.4">
<path d="M387.0,244.4L392.0,245.0L398.0,247.0L403.0,250.0L407.0,250.0L409.0,245.0L413.0,243.0L418.0,244.0L419.0,246.0L419.0,276.0L415.0,275.0L399.0,268.0L397.0,267.0L392.0,268.0L388.0,265.0L385.0,260.0L386.0,252.0L385.0,248.0Z"/>
</g>
<g fill="#4daf4a" stroke="#4daf4a" stroke-width="0.4">
<path d="M419.0,271.0L445.0,271.0L448.0,280.0L448.8,281.2L451.8,288.8L448.0,289.0L446.0,296.0L443.0,299.0L440.0,304.0L435.0,300.0L427.0,302.0L423.0,301.0L419.0,302.0L416.0,300.0L413.4,295.0L414.0,290.0L416.6,284.0L417.4,276.6L419.0,276.6Z"/>
</g>
<g fill="#e41a1c" stroke="#e41a1c" stroke-width="0.4">
<path d="M419.0,302.0L423.0,301.0L427.0,302.0L435.0,300.0L440.0,304.0L439.0,309.0L443.0,314.0L438.0,318.0L433.0,318.4L427.0,314.0L422.0,308.0Z"/>
</g>
<g fill="#4daf4a" stroke="#4daf4a" stroke-width="0.4">
<path d="M462.0,300.0L467.0,303.0L475.0,301.0L480.0,298.4L477.0,306.0L473.0,313.0L468.0,320.0L463.0,326.0L459.0,331.0L457.4,329.0L458.0,320.0L464.0,315.6L472.0,307.6L463.0,305.0Z"/>
<path d="M541.0,251.5L543.5,249.0L547.0,250.0L551.0,252.5L555.0,254.0L559.0,255.0L560.0,256.5L559.5,259.0L556.5,258.8L552.5,257.5L548.5,256.0L544.5,254.5L541.5,253.5Z"/>
<path d="M560.5,260.0L563.0,259.5L565.0,261.5L568.5,262.0L570.5,263.5L569.5,266.0L571.0,268.0L572.0,271.0L571.5,273.5L570.0,270.0L568.5,268.5L567.0,270.5L564.5,270.5L563.0,267.0L561.5,264.0L561.8,262.0Z"/>
<path d="M155.0,283.0L159.0,281.6L160.0,285.0L159.0,289.0L156.0,291.6L152.4,290.0L153.0,286.0Z"/>
</g>
<g fill="#e41a1c" stroke="#e41a1c" stroke-width="0.4">
<path d="M164.0,293.0L169.0,290.0L172.0,288.4L173.0,292.0L171.0,298.0L167.0,299.0L163.0,295.0Z"/>
</g>
<g fill="#4daf4a" stroke="#4daf4a" stroke-width="0.4">
<path d="M194.0,277.0L200.0,276.0L200.0,281.2L194.0,280.0L197.0,279.0Z"/>
</g>
<g fill="#e41a1c" stroke="#e41a1c" stroke-width="0.4">
<path d="M200.0,276.0L205.0,277.0L208.0,280.0L204.0,281.0L200.0,281.6Z"/>
<path d="M410.5,196.0L414.0,194.2L424.5,194.2L429.8,192.5L435.0,196.9L442.9,199.5L444.1,203.5L441.5,206.1L441.5,208.6L439.9,210.5L438.9,210.5L434.6,212.3L431.7,210.0L429.4,209.3L426.4,207.6L425.4,210.0L423.6,210.0L421.9,207.4L424.5,203.9L419.2,201.2L412.2,203.0L408.8,202.1L409.6,198.6Z"/>
<path d="M387.4,197.6L391.5,195.3L396.2,196.5L399.7,198.8L397.9,201.8L392.6,201.8L389.1,200.0Z"/>
<path d="M397.9,201.8L399.7,198.8L400.9,200.0L408.5,200.0L407.9,202.4L403.2,202.9L399.1,203.2Z"/>
<path d="M396.8,204.1L399.1,203.2L403.2,202.9L407.9,202.4L408.9,204.1L405.6,207.1L400.9,208.8L397.4,207.6L396.2,205.3Z"/>
<path d="M406.2,224.1L408.5,221.2L412.6,220.6L417.4,220.0L418.5,221.2L415.0,222.4L413.2,223.5L415.0,226.5L413.2,227.1L413.8,230.6L412.1,232.9L409.7,230.0L407.9,227.1L406.8,225.3Z"/>
<path d="M414.4,235.1L419.1,235.6L419.5,236.5L415.0,236.1Z"/>
<path d="M655.5,210.0L657.5,211.5L660.0,213.0L663.5,213.5L665.0,212.8L666.8,214.5L666.0,216.0L664.5,216.5L663.5,218.5L661.5,218.2L659.5,219.5L657.5,219.0L656.2,216.5L657.0,214.5L656.0,212.5Z"/>
<path d="M659.5,220.8L662.0,221.2L664.0,223.0L665.2,225.0L665.5,228.0L667.0,231.0L668.0,234.5L667.0,236.5L664.0,237.5L662.0,239.0L660.5,240.5L659.0,240.0L657.0,239.0L656.0,240.5L654.8,239.5L653.0,240.0L651.5,242.0L652.0,245.0L651.0,247.0L649.5,245.0L648.0,243.0L646.5,241.5L648.5,239.5L650.5,236.0L654.0,235.0L657.0,234.5L657.5,231.5L660.0,229.5L661.5,227.0L661.0,224.0L659.8,222.2Z"/>
<path d="M475.2,223.0L477.2,220.8L480.6,219.4L486.4,217.0L490.0,218.8L494.7,222.9L500.6,227.0L505.8,229.4L504.1,231.8L499.4,235.2L497.0,234.1L494.7,231.2L490.0,230.0L485.2,230.6L480.6,230.0L478.2,229.4L477.6,228.8L477.0,225.2Z"/>
</g>
<g fill="#4daf4a" stroke="#4daf4a" stroke-width="0.4">
<path d="M497.0,234.1L499.4,235.2L504.1,231.8L507.0,231.0L514.0,229.0L518.0,230.0L524.0,231.0L519.0,233.0L517.0,239.0L514.0,245.0L509.0,250.0L502.0,251.0L499.0,248.0L497.0,242.0L496.0,236.0Z"/>
<path d="M448.2,241.8L452.4,237.0L454.1,231.2L457.0,230.0L460.6,231.2L463.5,236.4L465.8,239.4L468.8,242.9L470.6,245.8L471.0,249.0L467.0,252.0L463.0,249.0L459.4,244.6L453.5,244.1Z"/>
<path d="M392.0,345.0L398.0,344.0L403.0,349.0L408.0,347.0L413.0,347.0L413.6,357.0L418.0,358.0L417.0,361.0L413.0,363.0L413.6,374.0L406.0,373.0L390.0,372.4L390.0,366.0L392.0,358.0L393.0,350.0Z"/>
<path d="M388.0,337.6L390.0,338.4L390.4,340.4L388.8,340.0Z"/>
</g>
<g fill="#e41a1c" stroke="#e41a1c" stroke-width="0.4">
<path d="M421.0,375.0L426.0,372.0L431.0,369.0L435.0,371.0L438.0,376.0L435.0,382.0L431.0,386.0L427.0,383.0L424.0,379.0Z"/>
</g>
<g fill="#4daf4a" stroke="#4daf4a" stroke-width="0.4">
<path d="M423.0,405.0L426.0,403.0L428.0,404.4L425.6,407.6L423.6,407.0Z"/>
<path d="M475.0,360.0L477.0,363.0L478.0,368.0L475.0,376.0L472.0,384.0L469.0,392.0L465.0,394.4L461.6,392.0L461.0,386.0L463.0,379.0L464.0,372.0L469.0,368.0L473.0,363.0Z"/>
<path d="M230.5,313.5L236.5,312.0L238.6,316.5L236.5,321.6L232.0,322.5L229.6,318.0Z"/>
<path d="M205.0,358.5L212.5,354.0L220.0,361.5L229.0,366.0L232.0,373.5L231.4,378.6L224.5,379.5L221.5,385.5L212.5,386.4L208.0,384.0L206.5,375.0L204.4,367.5Z"/>
</g>
<g fill="#e41a1c" stroke="#e41a1c" stroke-width="0.4">
<path d="M212.5,386.4L221.5,385.5L226.0,388.5L232.0,393.0L236.5,397.5L242.5,396.0L240.4,402.0L235.0,406.5L235.0,414.0L240.4,420.0L239.5,424.5L232.0,426.0L233.5,430.5L229.6,433.5L230.5,439.5L225.4,444.0L227.5,450.0L224.5,456.0L227.5,463.5L226.6,464.4L221.5,459.0L217.0,450.0L213.4,438.0L211.0,426.0L209.5,414.0L208.6,402.0L209.5,390.0Z"/>
<path d="M230.5,468.0L236.5,471.0L232.0,471.6Z"/>
<path d="M403.5,182.9L406.5,182.4L410.6,182.9L413.5,184.1L412.9,186.5L410.6,188.2L407.6,187.1L405.3,185.3L402.9,184.7Z"/>
</g>
<g fill="#4daf4a" stroke="#4daf4a" stroke-width="0.4">
<path d="M650.0,351.2L655.6,349.6L656.4,350.6L651.6,352.8Z"/>
</g>
<g fill="#fff">
<path d="M435.2,207.0L435.9,206.1L440.6,206.1L441.5,208.6L439.9,210.5L438.9,210.5L437.6,208.6Z"/>
<path d="M188.0,177.0L191.0,172.0L198.0,168.0L205.0,165.6L212.0,167.0L217.0,173.0L219.0,178.0L214.0,182.0L210.0,186.0L208.0,192.0L205.0,193.0L203.6,188.0L198.0,184.0L193.0,181.0Z"/>
<path d="M186.0,208.0L193.0,207.0L195.0,209.6L190.0,210.4Z"/>
<path d="M192.4,212.0L194.0,211.6L194.4,218.0L192.8,217.6Z"/>
<path d="M196.4,211.0L200.0,212.0L199.6,216.0L197.6,215.0Z"/>
<path d="M200.0,218.0L205.0,216.0L205.6,217.2L201.0,219.2Z"/>
</g>
<g fill="none" stroke="#cfcfcf" stroke-width="0.6">
<path d="M71.0,161.0L76.0,159.0L81.0,158.0L82.0,154.0L86.0,151.0L94.0,149.0L104.0,148.4L112.0,150.0L120.0,150.0L128.0,151.6L138.0,150.0L150.0,150.0L158.0,152.0L166.0,154.0L174.0,155.0L190.0,154.0"/>
<path d="M132.0,250.0L128.0,245.0L114.0,246.0L106.0,242.4L101.0,236.0L99.0,230.0L100.0,222.0L104.0,214.0L110.0,208.0L112.0,203.0L113.0,201.0L111.0,199.0L108.0,194.0L107.0,190.0L110.0,187.0L113.6,184.0L112.0,180.0L108.0,175.0L104.0,173.0L96.0,172.0L88.0,172.0L81.0,175.0L70.0,179.0L58.0,183.0L44.0,187.0L44.4,186.0L58.0,181.6L69.0,177.6L63.0,175.0L62.0,171.0L66.0,167.0L73.0,164.0L71.0,161.0"/>
<path d="M128.0,151.6L105.0,173.0L108.0,175.0L112.0,180.0L113.6,184.0"/>
<path d="M113.0,201.0L172.0,200.4L179.0,203.0L185.0,207.0L188.0,210.0L192.0,214.0L198.0,212.0L206.0,208.0L214.0,204.0L219.0,201.0L225.0,199.0"/>
<path d="M150.0,150.0L158.0,149.0L166.0,152.0L174.0,153.0L182.0,154.0L190.0,155.0L198.0,154.0L206.0,157.0L210.0,161.0L206.0,165.6L212.0,167.0L219.0,170.0L224.0,168.0L230.0,169.0L236.0,172.0L238.0,177.0L244.0,175.0L246.0,180.0L250.0,186.0L254.0,192.0L252.0,197.0L246.0,199.6L240.0,200.0L234.0,199.0L228.0,202.0L226.0,206.0L230.0,208.0L238.0,206.0L240.0,209.0L232.0,213.0L224.0,214.0L216.0,218.0L210.0,220.0L204.0,224.0L200.0,229.0L198.0,235.0L195.0,240.0"/>
<path d="M188.0,177.0L191.0,172.0L198.0,168.0L205.0,165.6L212.0,167.0L217.0,173.0L219.0,178.0L214.0,182.0L210.0,186.0L208.0,192.0L205.0,193.0L203.6,188.0L198.0,184.0L193.0,181.0L188.0,177.0"/>
<path d="M198.0,233.0L191.0,240.0L186.0,246.0L183.0,252.0L184.0,258.0L183.0,262.0L180.0,259.0L179.0,252.0L176.0,250.0L170.0,248.4L160.0,249.0L152.0,251.0L147.0,256.0L143.0,260.0L138.0,250.0L132.0,250.0L128.0,245.0L114.0,246.0L106.0,242.4"/>
</g>
<g fill="none" stroke="#2a4a6a" stroke-opacity="0.45" stroke-width="0.5">
<path d="M342.0,248.0L348.0,247.0L354.0,242.0L356.0,238.0L358.0,235.0"/>
<path d="M383.0,231.0L382.0,237.0L384.0,241.0L386.0,244.0"/>
<path d="M349.0,261.0L355.0,261.0L373.0,278.0"/>
<path d="M443.0,314.0L447.0,317.0L455.0,318.0L459.0,316.0L464.0,315.6"/>
<path d="M458.6,320.0L457.4,329.0"/>
<path d="M443.0,314.0L444.0,320.0L442.0,325.0L453.0,332.0L456.0,335.0"/>
<path d="M433.0,318.4L435.0,322.0L433.0,326.0L432.0,332.0L433.0,340.0"/>
<path d="M435.0,322.0L442.0,325.0"/>
<path d="M385.0,326.0L393.0,326.0L393.0,323.0"/>
<path d="M388.0,338.0L395.0,340.0"/>
<path d="M462.5,208.0L457.5,203.8L458.8,197.5L465.0,193.8L481.2,190.0L483.8,186.2L497.5,183.8L512.5,187.5L522.5,192.5L532.5,196.2L538.8,198.8L536.2,205.0L530.0,210.0L527.5,215.0L522.5,217.5L512.5,220.0L510.0,216.2L500.0,220.0L490.0,218.8"/>
<path d="M538.8,198.8L547.5,195.0L557.5,193.8L567.5,197.5L580.0,198.8L592.5,197.5L598.8,195.0L605.0,200.0L607.5,205.0L600.0,208.8L595.0,215.0L585.0,217.5L575.0,218.8L565.0,216.2L555.0,210.0L545.0,206.2L538.8,202.5L538.8,198.8"/>
<path d="M598.8,195.0L600.0,190.0L610.0,188.8L620.0,192.5L627.5,197.5L632.5,205.0L635.0,210.0L630.0,212.5L632.5,216.2"/>
<path d="M522.5,217.5L526.2,225.0L523.8,231.8L531.2,237.5L537.5,245.0L541.2,250.0"/>
<path d="M523.8,231.8L527.5,235.0L530.0,240.0L526.2,246.2L522.5,250.0L525.0,255.0L528.8,260.0"/>
<path d="M490.0,218.8L497.5,223.8L503.8,228.8L512.5,229.5L515.0,223.8L522.5,222.5L527.5,215.0"/>
<path d="M347.4,215.3L348.5,218.8L347.4,223.5L347.9,227.1L346.8,231.2"/>
<path d="M360.3,215.3L363.8,216.5L367.9,217.6"/>
<path d="M370.3,194.7L373.8,197.1L376.8,198.8L376.2,203.5L374.4,206.5L376.2,210.0L376.8,212.9"/>
<path d="M388.2,188.2L389.1,192.9L387.4,197.6"/>
<path d="M376.2,203.5L380.9,204.1L385.6,203.5L389.1,200.0"/>
<path d="M376.2,204.1L378.5,206.5L382.1,205.3L386.8,205.9L390.3,204.7L396.2,205.3"/>
<path d="M376.2,210.0L379.7,208.2L384.4,207.6L389.7,208.8"/>
<path d="M404.1,180.6L405.6,187.1L406.8,192.9L408.5,200.0"/>
<path d="M406.8,192.9L415.0,193.5L424.4,192.9L427.9,192.4"/>
<path d="M408.9,204.1L411.5,202.9L417.4,202.4L422.1,203.5L424.4,208.2L423.2,212.4L417.4,213.5L411.5,212.4L407.9,209.4L405.6,207.1"/>
<path d="M411.5,212.4L412.6,216.5L410.3,220.0L412.6,220.6"/>
<path d="M405.6,207.1L404.4,211.8L406.8,215.3L405.6,219.4"/>
<path d="M397.4,207.6L398.5,211.8L400.9,214.1L404.4,211.8"/>
<path d="M372.6,192.4L375.6,193.5L376.8,198.8"/>
<path d="M413.0,347.0L418.0,350.0L420.0,357.0L426.0,359.0L429.0,355.0L428.0,350.0L431.0,348.0"/>
<path d="M431.0,332.0L430.0,340.0L432.0,347.0L431.0,348.0L437.0,350.0L440.0,353.0L440.0,359.0L448.0,360.0L455.6,359.0"/>
<path d="M440.0,353.0L442.0,360.0L443.0,366.0L441.0,368.0"/>
<path d="M413.6,374.0L418.0,373.6L421.0,375.0"/>
<path d="M431.0,369.0L437.0,364.0L440.0,359.0"/>
<path d="M410.0,374.0L410.0,386.0L408.0,387.0L407.0,398.0L411.0,399.0L414.0,396.0L419.0,393.0L423.0,388.0L427.0,383.0"/>
<path d="M395.0,390.0L400.0,394.0L407.0,395.0L407.0,398.0"/>
<path d="M431.0,386.0L435.0,387.0L437.0,396.0"/>
<path d="M388.0,337.0L392.0,333.0L396.0,329.0"/>
<path d="M178.6,328.5L185.5,331.5L190.0,330.0L194.5,333.0L199.0,330.0L200.5,322.5L208.0,324.0L211.0,324.0"/>
<path d="M197.5,306.0L196.0,313.5L202.0,318.0L208.0,316.5L209.5,318.0"/>
<path d="M199.0,330.0L196.0,339.0L190.0,343.5L193.0,349.5L199.0,352.5L205.0,358.5"/>
<path d="M175.6,334.5L182.5,336.0L187.0,333.0"/>
<path d="M202.0,376.5L205.0,372.0L204.4,367.5"/>
<path d="M231.4,378.6L236.5,382.5L237.4,390.0L242.5,396.0"/>
<path d="M240.4,402.0L247.0,405.0L250.0,410.4"/>
<path d="M221.5,312.0L224.5,318.0L221.5,322.5L227.5,324.0L232.0,322.5"/>
<path d="M215.5,322.5L221.5,322.5"/>
<path d="M236.5,321.6L241.0,323.4"/>
</g>
<g fill="#377eb8" stroke="#377eb8" stroke-width="0.4">
<path d="M356.0,300.0L363.0,299.0L364.0,308.0L364.6,313.0L360.0,315.0L356.0,314.0L356.6,306.0Z"/>
<path d="M336.8,308.2L339.8,306.4L342.6,308.8L345.0,312.4L345.8,315.2L344.4,316.4L341.4,314.6L338.6,311.8Z"/>
</g>
<g fill="#e41a1c" stroke="#e41a1c" stroke-width="0.4">
<path d="M333.0,304.0L336.0,302.0L339.0,304.0L339.0,308.0L336.6,310.0L333.4,307.0Z"/>
</g>
<g fill="#4daf4a" stroke="#4daf4a" stroke-width="0.4">
<path d="M324.0,292.6L330.6,291.6L330.6,292.8L324.0,293.8Z"/>
</g>
<g fill="#fff">
<path d="M460.6,211.2L463.0,207.6L467.6,205.8L471.2,206.4L471.8,208.8L468.8,210.0L466.4,211.2L467.6,214.7L471.2,218.2L474.1,220.0L475.8,218.2L477.2,220.8L475.2,223.0L477.0,225.2L477.6,228.8L474.1,229.6L470.6,228.0L468.4,224.2L466.4,220.8L463.6,216.6L461.0,213.6Z"/>
</g>
<!--/MAP-->
<!--LEGEND-->
<path d="M284,533.500V537M371,533.500V537M458.500,533.500V537M545,533.500V537" stroke="#bbb" stroke-width="0.8" fill="none"/>
<rect x="260.500" y="537.500" width="47" height="10.800" fill="url(#h2)" stroke="#ccc" stroke-width="1"/>
<rect x="327" y="537.200" width="88" height="11.300" fill="#4daf4a"/>
<rect x="415" y="537.200" width="87" height="11.300" fill="#377eb8"/>
<path d="M502,537.200H584L590,542.850L584,548.500H502Z" fill="#e41a1c"/>
</svg>
<div class="lg" style="left:260px">No data</div>
<div class="lg" style="left:330px">Under budget</div>
<div class="lg" style="left:427px">On budget</div>
<div class="lg" style="left:508px">Over budget</div>
<div id="src"><b style="letter-spacing:-0.6px">Data source:</b> World Bank</div>
<div id="url">OurWorldinData.org/government-spending | CC BY</div>
</body></html>
